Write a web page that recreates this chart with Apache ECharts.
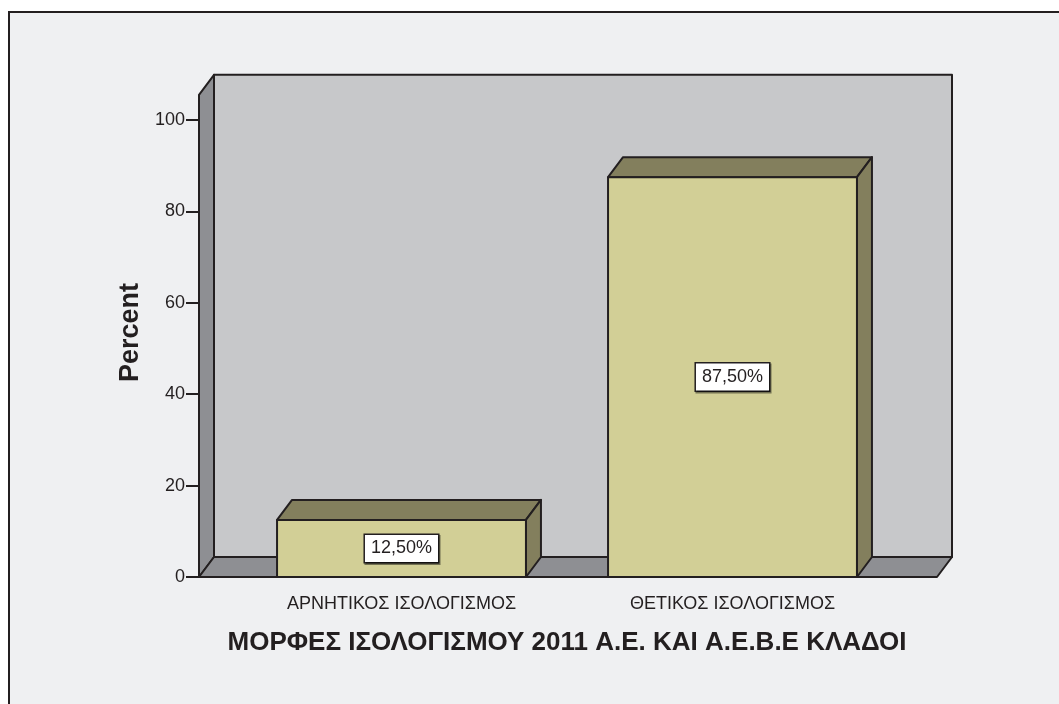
<!DOCTYPE html>
<html>
<head>
<meta charset="utf-8">
<script src="https://cdn.jsdelivr.net/npm/echarts@6/dist/echarts.min.js"></script>
<style>
  html, body { margin: 0; padding: 0; background: #fff; }
  #chart { width: 1059px; height: 704px; }
</style>
</head>
<body>
<div id="chart"></div>
<script>
const categories = ['ΑΡΝΗΤΙΚΟΣ ΙΣΟΛΟΓΙΣΜΟΣ', 'ΘΕΤΙΚΟΣ ΙΣΟΛΟΓΙΣΜΟΣ'];
const percents = [12.5, 87.5];
const xTitle = 'ΜΟΡΦΕΣ ΙΣΟΛΟΓΙΣΜΟΥ 2011 Α.Ε. ΚΑΙ Α.Ε.Β.Ε ΚΛΑΔΟΙ';
const yTitle = 'Percent';

const INK = '#231f20';
const FONT = '"Liberation Sans", Arial, sans-serif';
const DX = 15, DY = -20;          // depth of the 3d box
const PAD_L = 37, PAD_R = 39;     // floor sticks out past the category bands
const WALL_TOP = 105.5;           // walls go a bit above 100

const chart = echarts.init(document.getElementById('chart'));

function edge(fill) {
  return { fill: fill, stroke: INK, lineWidth: 2, lineJoin: 'round' };
}

// back wall, left wall and floor
function renderWalls(params, api) {
  const cs = params.coordSys;
  const x0 = cs.x - PAD_L, x1 = cs.x + cs.width + PAD_R;
  const yt = api.coord([0, WALL_TOP])[1];
  const yb = api.coord([0, 0])[1];
  return {
    type: 'group',
    children: [
      { type: 'rect', shape: { x: x0 + DX, y: yt + DY, width: x1 - x0, height: yb - yt }, style: edge('#c7c8ca') },
      { type: 'polygon', shape: { points: [[x0, yt], [x0 + DX, yt + DY], [x0 + DX, yb + DY], [x0, yb]] }, style: edge('#8e8f93') },
      { type: 'polygon', shape: { points: [[x0, yb], [x0 + DX, yb + DY], [x1 + DX, yb + DY], [x1, yb]] }, style: edge('#8e8f93') }
    ]
  };
}

function renderBar(params, api) {
  const base = api.coord([api.value(0), 0]);
  const top = api.coord([api.value(0), api.value(1)]);
  const w = api.size([1, 0])[0] * 0.752;
  const xl = base[0] - w / 2, xr = base[0] + w / 2;
  const yt = top[1], yb = base[1];
  const txt = api.value(1).toFixed(2).replace('.', ',') + '%';
  return {
    type: 'group',
    children: [
      { type: 'polygon', shape: { points: [[xl, yt], [xl + DX, yt + DY], [xr + DX, yt + DY], [xr, yt]] }, style: edge('#837f5d') },
      { type: 'polygon', shape: { points: [[xr, yt], [xr + DX, yt + DY], [xr + DX, yb + DY], [xr, yb]] }, style: edge('#837f5d') },
      { type: 'rect', shape: { x: xl, y: yt, width: w, height: yb - yt }, style: edge('#d2cf96') },
      {
        type: 'text', x: base[0], y: (yt + yb) / 2,
        style: {
          text: txt, fill: INK, font: '18px ' + FONT,
          align: 'center', verticalAlign: 'middle',
          backgroundColor: '#fff', borderColor: INK, borderWidth: 1.5,
          padding: [5, 6, 4, 6],
          shadowColor: 'rgba(0,0,0,0.45)', shadowOffsetX: 1, shadowOffsetY: 1.5
        }
      }
    ]
  };
}

const option = {
  animation: false,
  textStyle: { fontFamily: FONT, color: INK },
  graphic: [{
    type: 'rect', left: 8, top: 11, z: -1,
    shape: { width: 1100, height: 800 },
    style: { fill: '#eff0f2', stroke: INK, lineWidth: 2 }
  }],
  grid: { left: 236, right: 161, top: 120, bottom: 127 },
  xAxis: {
    type: 'category',
    data: categories,
    axisLine: { show: false },
    axisTick: { alignWithLabel: true, length: 12, lineStyle: { color: INK, width: 2 } },
    axisLabel: { interval: 0, margin: 18, fontSize: 18, color: INK },
    splitLine: { show: false },
    name: xTitle,
    nameLocation: 'middle',
    nameGap: 53,
    nameTextStyle: { fontSize: 26, fontWeight: 'bold', color: INK }
  },
  yAxis: {
    type: 'value',
    min: 0, max: 100, interval: 20,
    offset: PAD_L,
    axisLine: { show: false },
    axisTick: { show: true, length: 13, lineStyle: { color: INK, width: 2 } },
    axisLabel: { margin: 14, fontSize: 18, color: INK },
    splitLine: { show: false },
    name: yTitle,
    nameLocation: 'middle',
    nameRotate: 90,
    nameGap: 53,
    nameTextStyle: { fontSize: 27, fontWeight: 'bold', color: INK, padding: [0, 0, 0, 32] }
  },
  series: [
    { type: 'custom', name: 'walls', z: 1, silent: true, data: [[0, 0]], renderItem: renderWalls },
    { type: 'custom', name: 'bars', z: 2, data: percents.map((v, i) => [i, v]), renderItem: renderBar }
  ]
};

chart.setOption(option);
</script>
</body>
</html>
